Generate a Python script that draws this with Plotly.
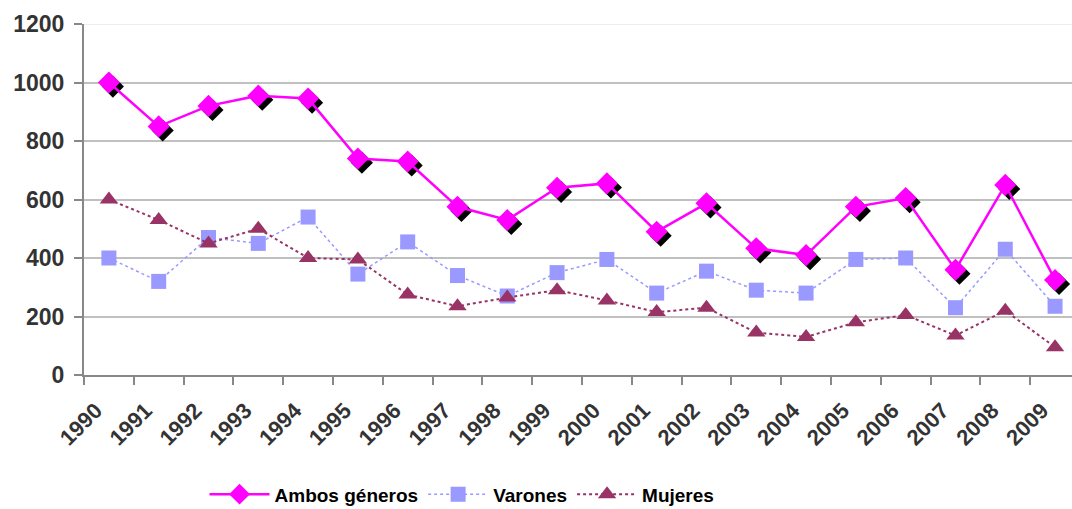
import plotly.graph_objects as go

years = [str(y) for y in range(1990, 2010)]
ambos = [1000, 850, 920, 955, 945, 740, 730, 575, 530, 640,
         655, 490, 587, 433, 410, 575, 605, 360, 650, 325]
varones = [400, 320, 470, 450, 540, 345, 455, 340, 270, 350,
           395, 280, 355, 290, 280, 395, 400, 230, 430, 235]
mujeres = [600, 530, 450, 500, 400, 395, 275, 235, 265, 290,
           255, 215, 230, 145, 130, 180, 205, 135, 220, 95]

idx = list(range(len(years)))

# drop-shadow offset for the diamond markers (in axis units)
SHADOW_DX = 0.08
SHADOW_DY = -14

font_family = "Liberation Sans, Arial, sans-serif"

fig = go.Figure()

fig.add_trace(go.Scatter(
    x=idx, y=varones, name="Varones", mode="lines+markers",
    line=dict(color="#9999FF", width=1.5, dash="dot"),
    marker=dict(symbol="square", size=15, color="#9999FF"),
))
fig.add_trace(go.Scatter(
    x=idx, y=mujeres, name="Mujeres", mode="lines+markers",
    line=dict(color="#993366", width=2, dash="dot"),
    marker=dict(symbol="triangle-up", size=16, color="#993366"),
))
fig.add_trace(go.Scatter(
    x=[i + SHADOW_DX for i in idx], y=[v + SHADOW_DY for v in ambos],
    mode="markers", showlegend=False, hoverinfo="skip",
    marker=dict(symbol="diamond", size=17, color="black"),
))
fig.add_trace(go.Scatter(
    x=idx, y=ambos, name="Ambos géneros", mode="lines+markers",
    line=dict(color="#FF00FF", width=2.5),
    marker=dict(symbol="diamond", size=17, color="#FF00FF"),
))

# legend order: Ambos, Varones, Mujeres
fig.data[3].legendrank = 1
fig.data[0].legendrank = 2
fig.data[1].legendrank = 3

fig.update_layout(
    width=1072, height=509,
    margin=dict(l=84, r=0, t=24, b=134, autoexpand=False),
    plot_bgcolor="white", paper_bgcolor="white",
    font=dict(family=font_family, color="#333333"),
    showlegend=True,
    legend=dict(
        orientation="h", x=0.122, xanchor="left", y=-0.34, yanchor="middle",
        font=dict(family=font_family, size=19, color="black", weight="bold"),
        itemwidth=60, bgcolor="rgba(0,0,0,0)",
    ),
    xaxis=dict(
        range=[-0.5, 19.34], tickmode="array", tickvals=idx, ticktext=years,
        tickangle=-45, ticks="", showgrid=False, zeroline=False,
        showline=True, linecolor="#888888", linewidth=2, automargin=False,
        ticklabelstandoff=12, ticklabelshift=-13,
        tickfont=dict(size=22, weight="bold", color="#333333"),
        minor=dict(tick0=-0.5, dtick=1, ticks="outside", ticklen=8,
                   tickwidth=2, tickcolor="#888888", showgrid=False),
    ),
    yaxis=dict(
        range=[0, 1200], tickvals=[0, 200, 400, 600, 800, 1000, 1200],
        ticks="outside", ticklen=8, tickwidth=2, tickcolor="#888888",
        showline=True, linecolor="#888888", linewidth=2, automargin=False,
        showgrid=True, gridcolor="#C0C0C0", gridwidth=2, zeroline=False,
        ticklabelstandoff=5,
        tickfont=dict(size=23, weight="bold", color="#333333"),
    ),
)

# the top gridline is drawn faintly
fig.add_shape(type="line", xref="paper", yref="y", x0=0, x1=1, y0=1200, y1=1200,
              line=dict(color="#EEEEEE", width=2), layer="below")

fig.write_html("out.html")
